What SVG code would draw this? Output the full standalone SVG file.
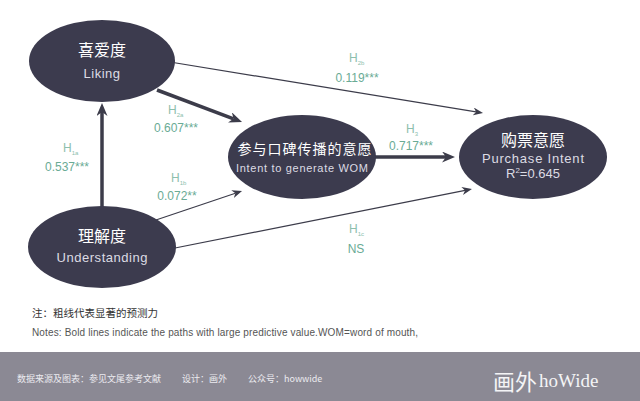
<svg xmlns="http://www.w3.org/2000/svg" width="640" height="401" viewBox="0 0 640 401">
<style>
.node{fill:#3c3b4e;}
.cn{font-family:"Noto Sans CJK SC","Noto Sans",sans-serif;fill:#ffffff;text-anchor:middle;}
.en{font-family:"Liberation Sans","DejaVu Sans",sans-serif;fill:#dcdce4;text-anchor:middle;}
.thin{stroke:#3c3c4a;stroke-width:1.2;fill:none;}
.thick{stroke:#3c3c4a;stroke-width:3.5;fill:none;}
.lab{font-family:"Liberation Sans","DejaVu Sans",sans-serif;fill:#6aab95;font-size:12px;text-anchor:middle;}
.h{font-family:"Liberation Sans","DejaVu Sans",sans-serif;fill:#8cc0ad;font-size:12px;}
.foot{font-family:"Noto Sans CJK SC","Liberation Sans",sans-serif;fill:#ecebf0;font-size:9px;}
</style>
<defs>
<marker id="aThin" markerUnits="userSpaceOnUse" markerWidth="10" markerHeight="8" refX="3" refY="4" orient="auto">
<path d="M0,0 L10,4 L0,8 L3,4 z" fill="#3c3c4a"/>
</marker>
<marker id="aThick" markerUnits="userSpaceOnUse" markerWidth="13" markerHeight="11" refX="4" refY="5.5" orient="auto">
<path d="M0,0 L13,5.5 L0,11 L4,5.5 z" fill="#3c3c4a"/>
</marker>
</defs>
<rect x="0" y="0" width="640" height="401" fill="#ffffff"/>
<g id="connectors">
<line class="thick" x1="102" y1="210" x2="102" y2="112" marker-end="url(#aThick)"/>
<line class="thick" x1="157" y1="90" x2="233.6" y2="118.8" marker-end="url(#aThick)"/>
<line class="thick" x1="370" y1="157" x2="446" y2="157" marker-end="url(#aThick)"/>
<line class="thin" x1="170" y1="62" x2="476.1" y2="111.9" marker-end="url(#aThin)"/>
<line class="thin" x1="150" y1="222" x2="235.4" y2="193.2" marker-end="url(#aThin)"/>
<line class="thin" x1="170" y1="249" x2="465.1" y2="190.4" marker-end="url(#aThin)"/>
</g>
<g id="labels">
<text class="h" x="349" y="62">H<tspan font-size="6" dy="3">2b</tspan></text>
<text class="lab" x="357" y="82">0.119***</text>
<text class="h" x="168" y="114">H<tspan font-size="6" dy="3">2a</tspan></text>
<text class="lab" x="176" y="132">0.607***</text>
<text class="h" x="406" y="133">H<tspan font-size="6" dy="3">3</tspan></text>
<text class="lab" x="411" y="150">0.717***</text>
<text class="h" x="63" y="152">H<tspan font-size="6" dy="3">1a</tspan></text>
<text class="lab" x="67" y="171">0.537***</text>
<text class="h" x="171" y="182">H<tspan font-size="6" dy="3">1b</tspan></text>
<text class="lab" x="177" y="200">0.072**</text>
<text class="h" x="349" y="233">H<tspan font-size="6" dy="3">1c</tspan></text>
<text class="lab" x="356" y="253" font-size="13">NS</text>
</g>
<g id="node-liking">
<ellipse class="node" cx="102" cy="61" rx="73" ry="41"/>
<text class="cn" x="102" y="56" font-size="16">喜爱度</text>
<text class="en" x="102" y="78" font-size="13" letter-spacing="0.5">Liking</text>
</g>
<g id="node-understanding">
<ellipse class="node" cx="102" cy="247" rx="74" ry="41"/>
<text class="cn" x="102" y="242" font-size="16">理解度</text>
<text class="en" x="102" y="262" font-size="13" textLength="91">Understanding</text>
</g>
<g id="node-intent">
<ellipse class="node" cx="302" cy="157" rx="74" ry="42"/>
<text class="cn" x="305" y="154" font-size="14" letter-spacing="1">参与口碑传播的意愿</text>
<text class="en" x="302" y="172" font-size="11" textLength="132">Intent to generate WOM</text>
</g>
<g id="node-purchase">
<ellipse class="node" cx="533" cy="157" rx="74" ry="42"/>
<text class="cn" x="533" y="146" font-size="16">购票意愿</text>
<text class="en" x="533" y="163" font-size="13" textLength="102">Purchase Intent</text>
<text class="en" x="533" y="178" font-size="13">R<tspan font-size="8" dy="-5">2</tspan><tspan dy="5">=0.645</tspan></text>
</g>
<g id="notes">
<text x="32" y="317" font-family="Noto Sans CJK SC,sans-serif" font-size="10.5" fill="#333333">注：粗线代表显著的预测力</text>
<text x="32" y="336" font-family="Liberation Sans,sans-serif" font-size="10" fill="#555555" textLength="386">Notes: Bold lines indicate the paths with large predictive value.WOM=word of mouth,</text>
</g>
<g id="footer">
<rect x="0" y="352" width="640" height="49" fill="#8b8994"/>
<text class="foot" x="17" y="382">数据来源及图表：参见文尾参考文献</text>
<text class="foot" x="182" y="382">设计：画外</text>
<text class="foot" x="248" y="382">公众号：howwide</text>
<text x="493" y="390" font-family="Noto Sans CJK SC,sans-serif" font-size="22" fill="#f4f4f6">画外</text>
<text x="539" y="387" font-family="Liberation Serif,serif" font-size="19" fill="#f4f4f6">hoWide</text>
</g>
</svg>
